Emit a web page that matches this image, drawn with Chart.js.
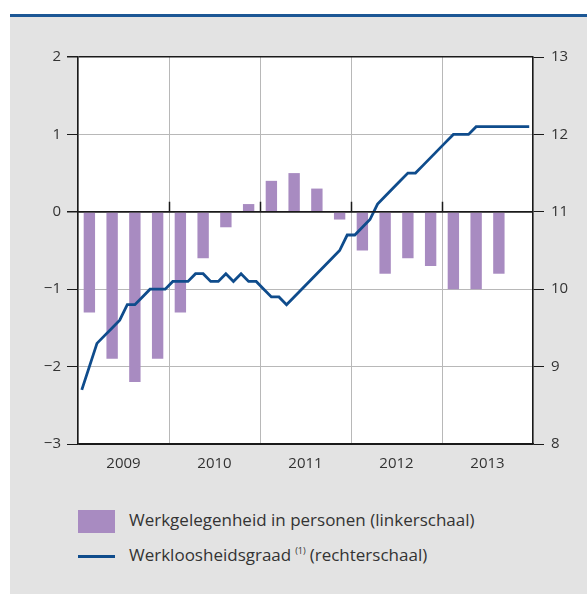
<!DOCTYPE html>
<html>
<head>
<meta charset="utf-8">
<script src="https://cdn.jsdelivr.net/npm/chart.js@4/dist/chart.umd.min.js"></script>
<style>
	html, body { margin: 0; padding: 0; background: #fff; }
	body { width: 587px; height: 594px; position: relative; overflow: hidden; font-family: "Open Sans", sans-serif; }
	#panel { position: absolute; left: 10px; top: 17px; right: 0; bottom: 0; background: #e3e3e3; }
	#topline { position: absolute; left: 10px; top: 14px; right: 0; height: 3px; background: #1c5795; }
	#wrap { position: absolute; left: 0; top: 0; width: 587px; height: 490px; }
	.leg { position: absolute; left: 129px; font-size: 17px; color: #333; white-space: nowrap; }
	.leg sup { font-size: 9px; vertical-align: 7px; margin: 0 4px 0 4px; }
</style>
</head>
<body>
<div id="topline"></div>
<div id="panel"></div>
<div id="wrap"><canvas id="c"></canvas></div>
<div id="legend"></div>
<script>
// jaren en kwartalen
let years = ['2009', '2010', '2011', '2012', '2013'];
let quarters = [
	'2009K1', '2009K2', '2009K3', '2009K4',
	'2010K1', '2010K2', '2010K3', '2010K4',
	'2011K1', '2011K2', '2011K3', '2011K4',
	'2012K1', '2012K2', '2012K3', '2012K4',
	'2013K1', '2013K2', '2013K3', '2013K4'
];
let months = [];
years.forEach(y => {
	for (let m = 1; m <= 12; m++) months.push(y + '-' + m);
});

// linkerschaal, kwartaalcijfers
let werkgelegenheid = [
	-1.3, -1.9, -2.2, -1.9,
	-1.3, -0.6, -0.2, 0.1,
	0.4, 0.5, 0.3, -0.1,
	-0.5, -0.8, -0.6, -0.7,
	-1.0, -1.0, -0.8, null
];

// rechterschaal, maandcijfers
let werkloosheid = [
	8.7, 9.0, 9.3, 9.4, 9.5, 9.6, 9.8, 9.8, 9.9, 10.0, 10.0, 10.0,
	10.1, 10.1, 10.1, 10.2, 10.2, 10.1, 10.1, 10.2, 10.1, 10.2, 10.1, 10.1,
	10.0, 9.9, 9.9, 9.8, 9.9, 10.0, 10.1, 10.2, 10.3, 10.4, 10.5, 10.7,
	10.7, 10.8, 10.9, 11.1, 11.2, 11.3, 11.4, 11.5, 11.5, 11.6, 11.7, 11.8,
	11.9, 12.0, 12.0, 12.0, 12.1, 12.1, 12.1, 12.1, 12.1, 12.1, 12.1, 12.1
];

let barLabel = 'Werkgelegenheid in personen (linkerschaal)';
let lineLabel = 'Werkloosheidsgraad';
let lineNote = '(1)';
let lineSuffix = '(rechterschaal)';

let barColor = '#a88bc1';
let lineColor = '#0f4c8c';
let gridColor = '#b8b8b8';
let axisColor = '#1a1a1a';
let textColor = '#333';
let tickFont = { family: 'Open Sans', size: 15 };

function minus(v) {
	return String(v).replace('-', '\u2212');
}

let frame = {
	id: 'frame',
	beforeDraw(chart) {
		let a = chart.chartArea;
		let ctx = chart.ctx;
		ctx.save();
		ctx.fillStyle = '#fff';
		ctx.fillRect(a.left, a.top, a.right - a.left, a.bottom - a.top);
		ctx.restore();
	},
	afterDatasetsDraw(chart) {
		let a = chart.chartArea;
		let ctx = chart.ctx;
		let y0 = chart.scales.y.getPixelForValue(0);
		let xs = chart.scales.x;
		ctx.save();
		ctx.strokeStyle = axisColor;
		ctx.lineWidth = 1.5;
		ctx.beginPath();
		ctx.moveTo(a.left, y0);
		ctx.lineTo(a.right, y0);
		for (let i = 1; i < years.length; i++) {
			let x = Math.round((xs.getPixelForTick(i - 1) + xs.getPixelForTick(i)) / 2) + 0.5;
			ctx.moveTo(x, y0);
			ctx.lineTo(x, y0 - 10);
		}
		ctx.stroke();
		ctx.restore();
	}
};

let chart = new Chart(document.getElementById('c'), {
	data: {
		datasets: [
			{
				type: 'line',
				label: lineLabel,
				data: werkloosheid,
				xAxisID: 'xm',
				yAxisID: 'y1',
				borderColor: lineColor,
				borderWidth: 2.8,
				pointRadius: 0,
				tension: 0,
				order: 0
			},
			{
				type: 'bar',
				label: barLabel,
				data: werkgelegenheid,
				xAxisID: 'xq',
				yAxisID: 'y',
				backgroundColor: barColor,
				grouped: false,
				barPercentage: 0.5,
				categoryPercentage: 1,
				order: 1
			}
		]
	},
	options: {
		responsive: true,
		maintainAspectRatio: false,
		animation: false,
		layout: { padding: { top: 57, left: 0, right: 0, bottom: 0 } },
		plugins: { legend: { display: false }, tooltip: { enabled: false } },
		scales: {
			x: {
				type: 'category',
				labels: years,
				position: 'bottom',
				offset: true,
				grid: { offset: true, color: gridColor, drawTicks: false },
				border: { color: axisColor, width: 1.5 },
				ticks: { color: textColor, font: tickFont, padding: 11 },
				afterFit: s => { s.height = 46; }
			},
			xq: { type: 'category', labels: quarters, display: false, offset: true },
			xm: { type: 'category', labels: months, display: false, offset: true },
			y: {
				position: 'left',
				min: -3,
				max: 2,
				ticks: { stepSize: 1, color: textColor, font: tickFont, padding: 6, callback: v => minus(v) },
				grid: {
					color: c => (c.tick.value === 0 || c.tick.value === 2 || c.tick.value === -3) ? axisColor : gridColor,
					lineWidth: c => (c.tick.value === 0 || c.tick.value === 2) ? 1.5 : 1,
					tickColor: axisColor,
					tickLength: 11
				},
				border: { color: axisColor, width: 1.5 },
				afterFit: s => { s.width = 78; }
			},
			y1: {
				position: 'right',
				min: 8,
				max: 13,
				ticks: { stepSize: 1, color: textColor, font: tickFont, padding: 7 },
				grid: { drawOnChartArea: false, tickColor: axisColor, tickLength: 11 },
				border: { color: axisColor, width: 1.5 },
				afterFit: s => { s.width = 54; }
			}
		}
	},
	plugins: [frame]
});

// legenda
let legend = document.getElementById('legend');
legend.innerHTML =
	'<div style="position:absolute;left:78px;top:510px;width:37px;height:23px;background:' + barColor + '"></div>' +
	'<div class="leg" style="top:508px">' + barLabel + '</div>' +
	'<div style="position:absolute;left:78px;top:555px;width:37px;height:3px;background:' + lineColor + '"></div>' +
	'<div class="leg" style="top:543px">' + lineLabel + '<sup>' + lineNote + '</sup>' + lineSuffix + '</div>';
</script>
</body>
</html>
